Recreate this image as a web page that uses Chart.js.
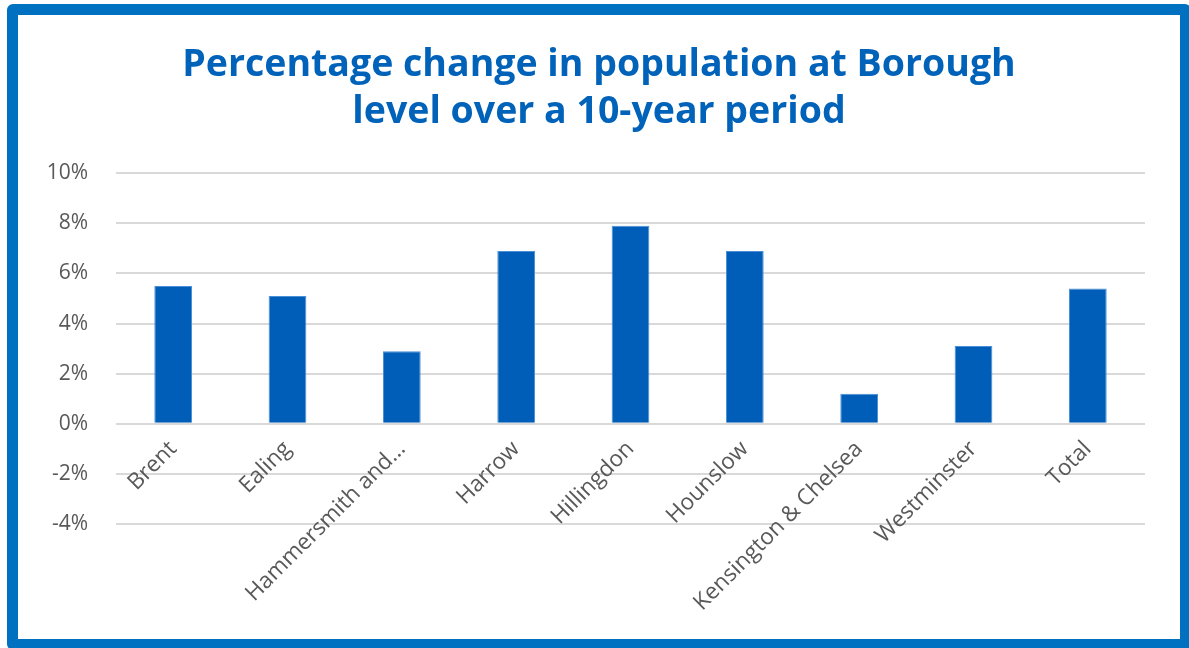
<!DOCTYPE html>
<html>
<head>
<meta charset="utf-8">
<script src="https://cdn.jsdelivr.net/npm/chart.js@4.4.1/dist/chart.umd.min.js"></script>
<style>
  html, body { margin: 0; padding: 0; background: #fff; overflow: hidden; }
  body { width: 1189px; height: 648px; position: relative; }
  #frame {
    position: absolute; left: 7px; top: 4px;
    width: 1162px; height: 624px;
    border: 11px solid #0070C0; border-radius: 6px;
    background: #fff;
  }
  #wrap { position: absolute; left: 0; top: 0; width: 1162px; height: 624px; }
</style>
</head>
<body>
<div id="frame"><div id="wrap"><canvas id="chart"></canvas></div></div>
<script>
// ── Data ──────────────────────────────────────────────────────────────────
const boroughs = ['Brent', 'Ealing', 'Hammersmith and\u2026', 'Harrow', 'Hillingdon',
                  'Hounslow', 'Kensington & Chelsea', 'Westminster', 'Total'];
const popChange = [5.5, 5.1, 2.9, 6.9, 7.9, 6.9, 1.2, 3.1, 5.4];
const titleLines = ['Percentage change in population at Borough', 'level over a 10-year period'];
const yMin = -4, yMax = 10, yStep = 2;

// ── Palette ───────────────────────────────────────────────────────────────
const BAR   = '#005EB8';
const TITLE = '#0062B8';
const TEXT  = '#595959';
const GRID  = '#D9D9D9';

Chart.defaults.font.family = "'Open Sans', sans-serif";

new Chart(document.getElementById('chart'), {
  type: 'bar',
  data: {
    labels: boroughs,
    datasets: [{
      data: popChange,
      backgroundColor: BAR,
      borderColor: '#4A8FD6',
      borderWidth: 1,
      barPercentage: 0.66,
      categoryPercentage: 0.5,
    }],
  },
  options: {
    responsive: true,
    maintainAspectRatio: false,
    animation: false,
    layout: { padding: { top: 26, right: 0, bottom: 115, left: 0 } },
    plugins: {
      legend: { display: false },
      tooltip: { enabled: false },
      title: {
        display: true,
        text: titleLines,
        color: TITLE,
        font: { size: 37.5, weight: 'bold', lineHeight: 1.27 },
        padding: { top: 0, bottom: 37 },
      },
    },
    scales: {
      x: {
        position: { y: 0 },
        grid: { display: false },
        border: { display: false },
        ticks: {
          color: TEXT,
          font: { size: 22.5 },
          minRotation: 45,
          maxRotation: 45,
          padding: 4,
          autoSkip: false,
        },
      },
      y: {
        min: yMin,
        max: yMax,
        afterFit: s => { s.width = 98; },
        grid: { color: GRID, lineWidth: 2, drawTicks: false },
        border: { display: false },
        ticks: {
          stepSize: yStep,
          color: TEXT,
          font: { size: 21 },
          padding: 28,
          callback: v => v + '%',
        },
      },
      // empty right-hand gutter, keeps the title centred on the whole frame
      gutter: {
        axis: 'y',
        position: 'right',
        min: yMin,
        max: yMax,
        afterFit: s => { s.width = 35; },
        grid: { display: false },
        border: { display: false },
        ticks: { display: false },
      },
    },
  },
});
</script>
</body>
</html>
